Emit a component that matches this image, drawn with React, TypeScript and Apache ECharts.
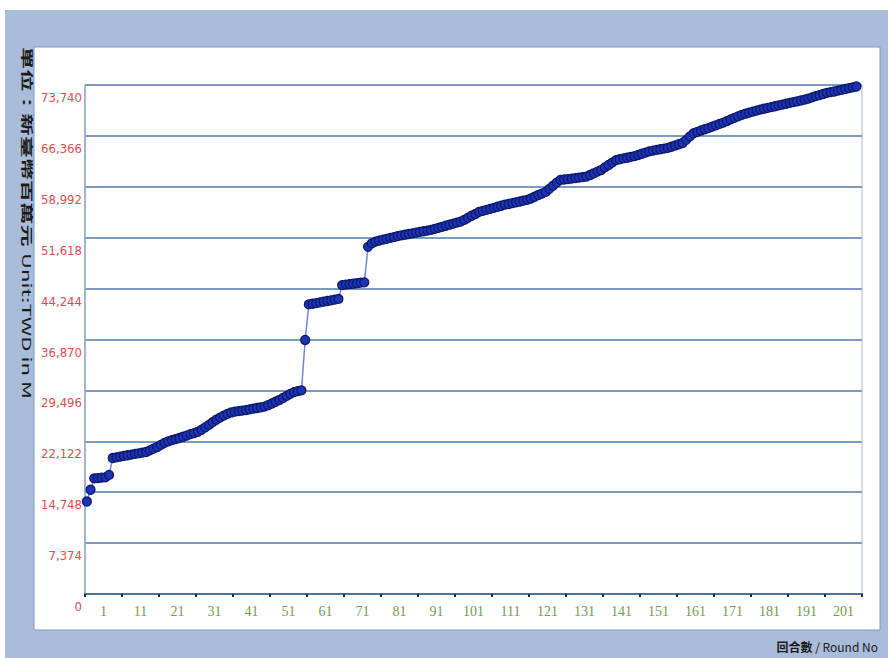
import React, { useEffect, useRef } from "react";
import * as echarts from "echarts";

// Cumulative amount (TWD million) per round
const valuesRounds1to59: number[] = [
  13400, 15100, 16750, 16800, 16850, 16900, 17250,
  19700, 19800, 19900, 20000, 20100, 20200, 20300, 20380, 20470, 20570,
  20800, 21050, 21300, 21600, 21900,
  22100, 22300, 22450, 22600,
  22780, 22950, 23150, 23300, 23500,
  23800, 24150, 24500, 24900,
  25250, 25550, 25850, 26100, 26300,
  26420, 26500, 26580, 26650,
  26750, 26850, 26950, 27050, 27150,
  27350, 27600, 27850, 28100,
  28400, 28700, 29000, 29250,
  29400, 29500,
];
const valuesRounds60to77: number[] = [
  36800,
  41950, 42050, 42150, 42250, 42350, 42450, 42550, 42650, 42750,
  44750, 44820, 44900, 44950, 45020, 45100, 45150,
  50300,
];
const valuesRounds78to129: number[] = [
  50800, 51050, 51200, 51350, 51450, 51600, 51700, 51850, 51950,
  52050, 52150, 52250, 52350, 52450, 52550, 52650, 52750, 52900, 53050,
  53200, 53350, 53500, 53650, 53800, 53950,
  54200, 54500, 54800, 55050, 55350,
  55500, 55650, 55800, 55950, 56100, 56250, 56400,
  56500, 56620, 56740, 56860, 56980, 57100,
  57300, 57550, 57800, 58000, 58250,
  58700, 59150, 59600, 60000,
];
const valuesRounds130to209: number[] = [
  60050, 60100, 60180, 60250, 60320, 60400, 60480,
  60700, 60950, 61200, 61420,
  61800, 62150, 62500, 62850,
  62980, 63100, 63200, 63320, 63430,
  63600, 63780, 63950, 64130,
  64230, 64330, 64430, 64530, 64630,
  64800, 64980, 65160, 65340,
  65800, 66300, 66750,
  66950, 67150, 67330, 67500,
  67700, 67900, 68100, 68300, 68500,
  68750, 68980, 69200, 69420,
  69580, 69730, 69880, 70030, 70180,
  70300, 70420, 70540, 70660, 70780, 70900,
  71020, 71140, 71260, 71380, 71500, 71620,
  71780, 71950, 72120, 72280, 72440, 72600,
  72700, 72800, 72920, 73040,
  73160, 73280, 73400, 73520,
];

const roundCount = 210;
const roundLabels: string[] = Array.from({ length: roundCount }, (_, i) => String(i + 1));
const xTickLabels: string[] = [
  "1", "11", "21", "31", "41", "51", "61", "71", "81", "91", "101",
  "111", "121", "131", "141", "151", "161", "171", "181", "191", "201",
];
const yMin = 0;
const yMax = 73740;
const yInterval = 7374;

const yTitleZh = "單位：新臺幣百萬元";
const yTitleEn = "Unit:TWD in M";
const xTitleZh = "回合數";
const xTitleEn = " / Round No";

export default function App() {
  const ref = useRef<HTMLDivElement>(null);

  useEffect(() => {
    if (!ref.current) return;
    const chart = echarts.init(ref.current, undefined, { renderer: "svg" });
    const values = [
      ...valuesRounds1to59,
      ...valuesRounds60to77,
      ...valuesRounds78to129,
      ...valuesRounds130to209,
    ];
    const fontFam = "'Noto Sans CJK TC', 'Noto Sans', sans-serif";
    chart.setOption({
      animation: false,
      backgroundColor: "#ffffff",
      graphic: [
        {
          type: "rect",
          z: -10,
          shape: { x: 5, y: 10, width: 883, height: 648 },
          style: { fill: "#a9bcd9" },
          silent: true,
        },
        {
          type: "rect",
          z: -9,
          shape: { x: 34, y: 47, width: 846, height: 583 },
          style: { fill: "#ffffff", stroke: "#7b98bf", lineWidth: 1 },
          silent: true,
        },
        {
          type: "text",
          x: 27,
          y: 47,
          rotation: -Math.PI / 2,
          scaleX: 1.85,
          style: {
            text: "{zh|" + yTitleZh + "} {en|" + yTitleEn + "}",
            align: "left",
            verticalAlign: "middle",
            rich: {
              zh: { font: "bold 12px " + fontFam, fill: "#1a1a1a" },
              en: { font: "12px " + fontFam, fill: "#1a1a1a" },
            },
          },
          silent: true,
        },
        {
          type: "text",
          x: 878,
          y: 646,
          style: {
            text: "{zh|" + xTitleZh + "}{en|" + xTitleEn + "}",
            align: "right",
            verticalAlign: "middle",
            rich: {
              zh: { font: "bold 12px " + fontFam, fill: "#1a1a1a" },
              en: { font: "12px " + fontFam, fill: "#1a1a1a" },
            },
          },
          silent: true,
        },
      ],
      grid: {
        left: 85,
        right: 26,
        top: 85,
        bottom: 64,
        show: true,
        borderColor: "#a9bcd4",
        borderWidth: 1,
      },
      xAxis: [
        {
          type: "category",
          data: roundLabels,
          boundaryGap: true,
          position: "bottom",
          axisLine: { show: false },
          axisTick: { show: false },
          axisLabel: { show: false },
          splitLine: { show: false },
        },
        {
          type: "category",
          data: xTickLabels,
          boundaryGap: true,
          position: "bottom",
          axisLine: { show: true, lineStyle: { color: "#4f6f95", width: 2 } },
          axisTick: {
            show: true,
            interval: 0,
            alignWithLabel: false,
            length: 3,
            lineStyle: { color: "#1b2b45", width: 2 },
          },
          axisLabel: {
            interval: 0,
            color: "#6f9f45",
            fontFamily: "'Liberation Serif', serif",
            fontSize: 14,
            margin: 10,
          },
          splitLine: { show: false },
        },
      ],
      yAxis: {
        type: "value",
        min: yMin,
        max: yMax,
        interval: yInterval,
        axisLine: { show: true, lineStyle: { color: "#93a9c6", width: 1.5 } },
        axisTick: { show: false },
        splitLine: { show: true, lineStyle: { color: "#7d9bc0", width: 2 } },
        axisLabel: {
          color: "#e8494c",
          fontFamily: "'Liberation Sans Narrow', 'DejaVu Sans Condensed', sans-serif",
          fontSize: 13,
          margin: 3,
          verticalAlign: "top",
          padding: [6, 0, 0, 0],
          formatter: (v: number) => v.toLocaleString("en-US"),
        },
      },
      series: [
        {
          type: "line",
          xAxisIndex: 0,
          yAxisIndex: 0,
          data: values,
          symbol: "circle",
          symbolSize: 9,
          showSymbol: true,
          showAllSymbol: true,
          lineStyle: { color: "#6f86ee", width: 1.5 },
          itemStyle: { color: "#1c34b4", borderColor: "#0b176a", borderWidth: 1.2 },
        },
      ],
    });
    return () => chart.dispose();
  }, []);

  return (
    <div
      ref={ref}
      style={{ position: "absolute", left: 0, top: 0, width: 888, height: 658 }}
    />
  );
}
